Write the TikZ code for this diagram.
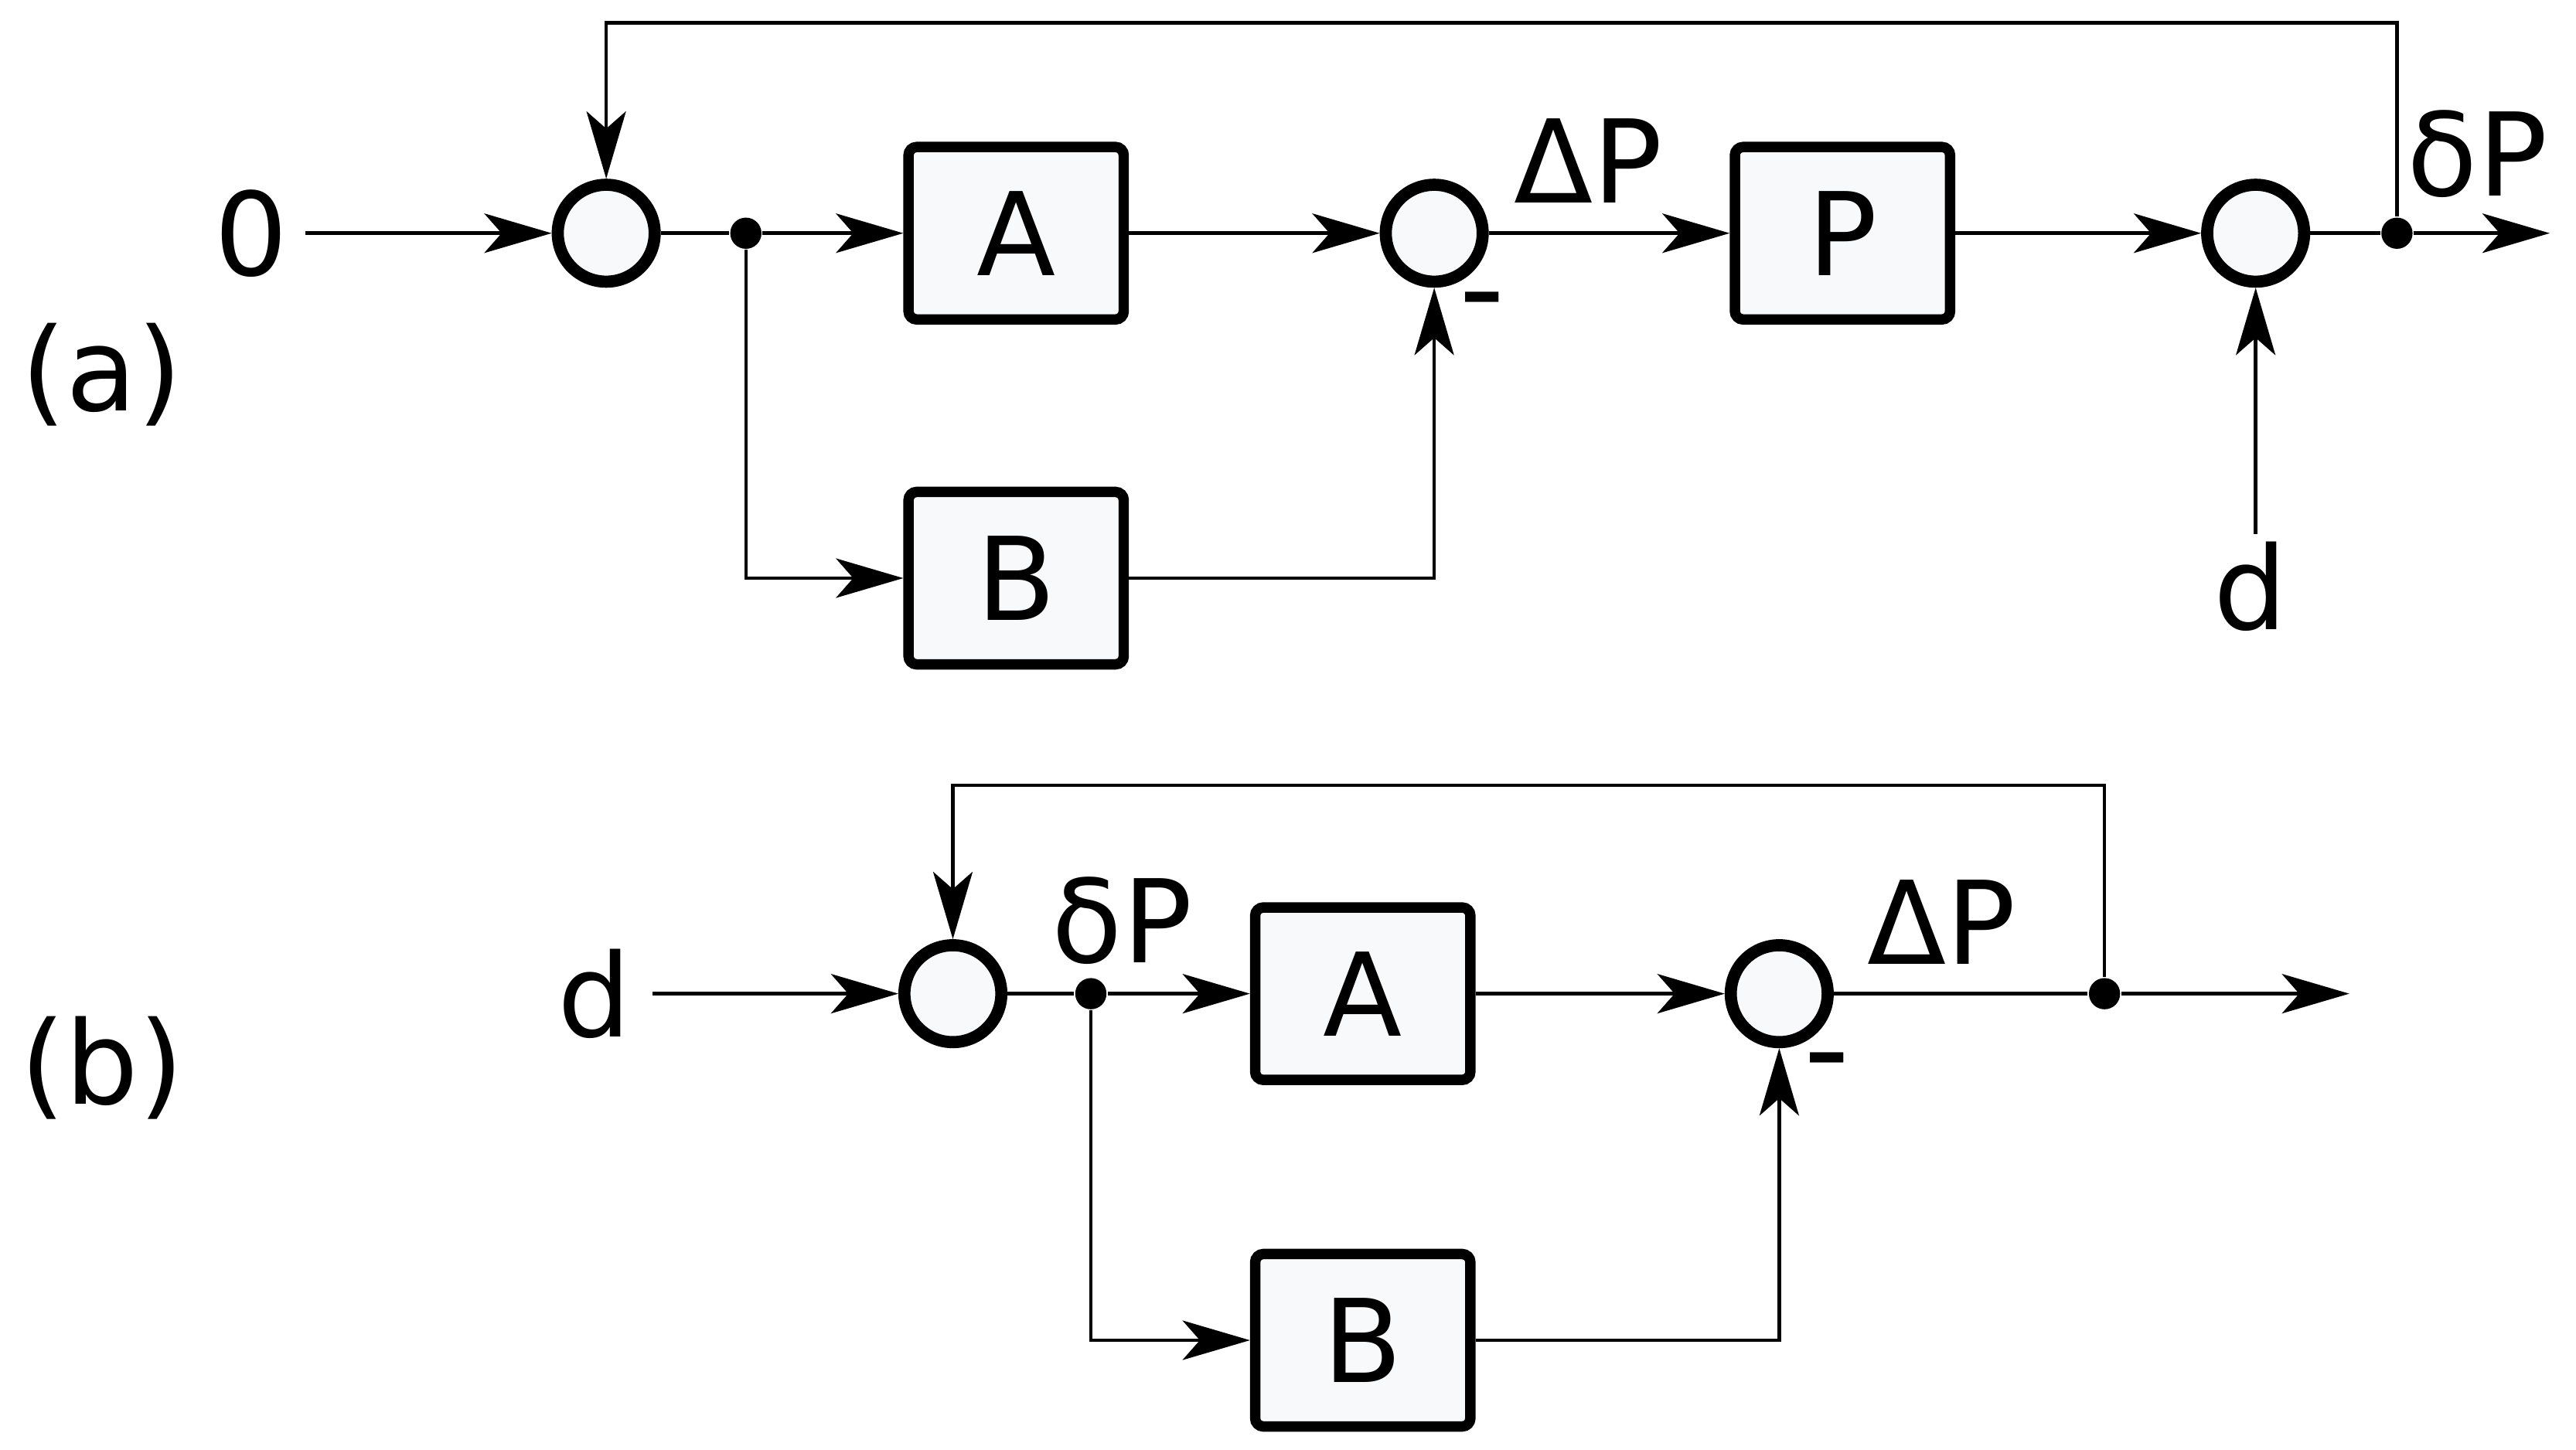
\documentclass[tikz,border=0pt]{standalone}
\usepackage{fontspec}
\setmainfont{DejaVu Sans}
\usepackage{tikz}
\usetikzlibrary{arrows.meta,positioning}
\definecolor{blockfill}{HTML}{F8F9FB}
\tikzset{
  >={Stealth[length=4.1mm,width=2.4mm,inset=1.05mm]},
  block/.style={draw,line width=1.8pt,rounded corners=0.5mm,fill=blockfill,minimum width=1.31cm,minimum height=1.05cm,inner sep=0pt,font=\fontsize{20}{24}\selectfont},
  sumnode/.style={draw,circle,line width=2.1pt,fill=blockfill,minimum size=0.59cm,inner sep=0pt},
  junc/.style={fill,circle,minimum size=0.19cm,inner sep=0pt},
  lbl/.style={inner sep=0pt,font=\fontsize{20}{24}\selectfont},
  minus/.style={inner sep=0pt,font=\fontsize{22}{26}\selectfont},
  wire/.style={line width=0.6pt}
}
\begin{document}
\begin{tikzpicture}
\useasboundingbox (0,0) rectangle (15.68,-8.828);
% (a)
\node[lbl] (lbla) at (0.62,-2.28) {(a)};
\node[lbl] (zero) at (1.53,-1.42) {0};
\coordinate (zin) at (1.86,-1.42);
\node[sumnode] (s1) at (3.69,-1.42) {};
\node[junc] (j1) at (4.54,-1.42) {};
\node[block] (A) at (6.185,-1.42) {A};
\node[block] (B) at (6.185,-3.52) {B};
\node[sumnode] (s2) at (8.73,-1.42) {};
\node[minus] (m1) at (9.02,-1.90) {-};
\node[lbl] (dPa) at (9.67,-0.98) {ΔP};
\node[block] (P) at (11.215,-1.42) {P};
\node[sumnode] (s3) at (13.73,-1.42) {};
\node[junc] (j2) at (14.59,-1.42) {};
\coordinate (outa) at (15.52,-1.42);
\node[lbl] (sPa) at (15.08,-0.935) {δP};
\node[lbl] (da) at (13.70,-3.57) {d};
\coordinate (din) at (13.73,-3.25);
\coordinate (fba) at (14.59,-0.14);

\draw[wire,->] (zin) -- (s1);
\draw[wire] (s1) -- (j1);
\draw[wire,->] (j1) -- (A);
\draw[wire,->] (j1) |- (B);
\draw[wire,->] (A) -- (s2);
\draw[wire,->] (B) -| (s2);
\draw[wire,->] (s2) -- (P);
\draw[wire,->] (P) -- (s3);
\draw[wire,->] (din) -- (s3);
\draw[wire] (s3) -- (j2);
\draw[wire,->] (j2) -- (outa);
\draw[wire,->] (j2) -- (fba) -| (s1);

% (b)
\node[lbl] (lblb) at (0.62,-6.50) {(b)};
\node[lbl] (db) at (3.62,-6.05) {d};
\coordinate (dbin) at (3.97,-6.05);
\node[sumnode] (t1) at (5.80,-6.05) {};
\node[junc] (k1) at (6.64,-6.05) {};
\node[lbl] (sPb) at (6.83,-5.605) {δP};
\node[block] (A2) at (8.295,-6.05) {A};
\node[block] (B2) at (8.295,-8.16) {B};
\node[sumnode] (t2) at (10.83,-6.05) {};
\node[minus] (m2) at (11.12,-6.53) {-};
\node[lbl] (dPb) at (11.82,-5.615) {ΔP};
\node[junc] (k2) at (12.81,-6.05) {};
\coordinate (outb) at (14.30,-6.05);
\coordinate (fbb) at (12.81,-4.78);

\draw[wire,->] (dbin) -- (t1);
\draw[wire] (t1) -- (k1);
\draw[wire,->] (k1) -- (A2);
\draw[wire,->] (k1) |- (B2);
\draw[wire,->] (A2) -- (t2);
\draw[wire,->] (B2) -| (t2);
\draw[wire] (t2) -- (k2);
\draw[wire,->] (k2) -- (outb);
\draw[wire,->] (k2) -- (fbb) -| (t1);
\end{tikzpicture}
\end{document}
